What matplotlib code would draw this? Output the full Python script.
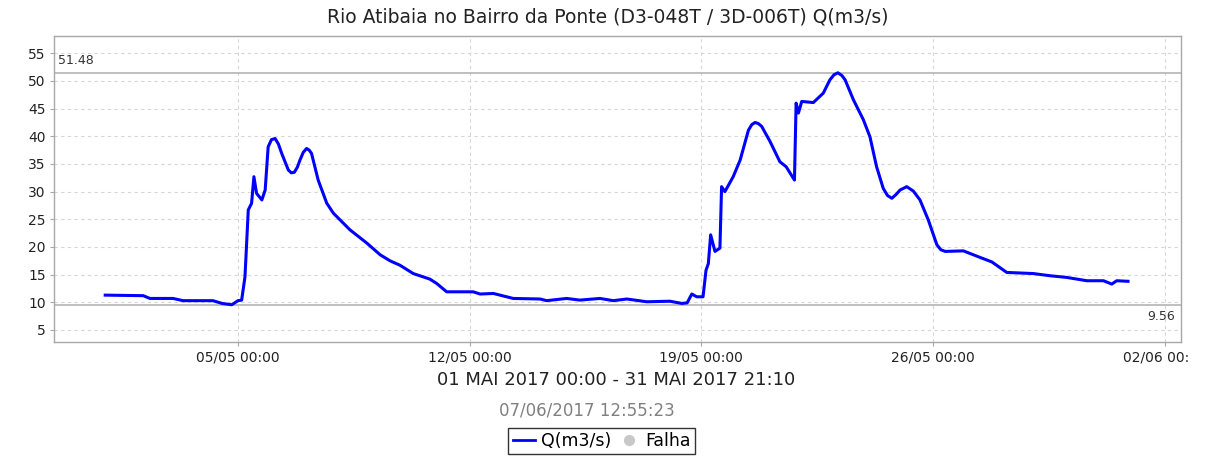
"""
Vazão do Rio Atibaia no Bairro da Ponte - maio de 2017
"""

import matplotlib
matplotlib.use('Agg')
import matplotlib.pyplot as plt
import matplotlib.dates as mdates
from matplotlib.lines import Line2D
from matplotlib.transforms import Bbox, TransformedBbox
from datetime import datetime, timedelta

# dias desde 01/05/2017 00:00
dias = [0.00, 1.15, 1.35, 2.05, 2.35, 3.25, 3.53, 3.82, 4.01, 4.12,
        4.22, 4.32, 4.42, 4.49, 4.57, 4.73, 4.83, 4.92, 5.02, 5.13,
        5.23, 5.33, 5.53, 5.62, 5.71, 5.80, 5.88, 5.98, 6.08, 6.16,
        6.23, 6.43, 6.69, 6.89,
        7.39, 7.90, 8.30, 8.60, 8.90, 9.30, 9.80, 10.01, 10.31, 11.11,
        11.32, 11.72, 12.32, 13.13, 13.33, 13.93, 14.33, 14.94, 15.34, 15.75,
        16.35, 17.05, 17.41, 17.57, 17.71, 17.86, 18.05, 18.14, 18.21, 18.28,
        18.41, 18.56, 18.61, 18.71, 18.96, 19.17, 19.42, 19.52, 19.62, 19.72,
        19.82, 20.07,
        20.37, 20.56, 20.81, 20.86, 20.93, 21.03, 21.38, 21.68, 21.88, 22.00,
        22.12, 22.24, 22.34, 22.59, 22.89, 23.09, 23.29, 23.49, 23.62, 23.75,
        23.88, 24.00, 24.20, 24.40, 24.60, 24.85, 25.11, 25.23, 25.36, 25.91,
        26.42, 26.77, 27.22, 28.02,
        28.53, 29.03, 29.64, 30.14, 30.39, 30.54, 30.88]
vazao = [11.3, 11.2, 10.7, 10.7, 10.3, 10.3, 9.8, 9.56, 10.3, 10.4,
         14.6, 26.7, 27.9, 32.7, 29.7, 28.5, 30.3, 38.1, 39.4, 39.6,
         38.6, 36.9, 33.9, 33.4, 33.5, 34.4, 35.7, 37.1, 37.8, 37.5,
         36.9, 32.1, 27.9, 26.1,
         23.1, 20.7, 18.6, 17.5, 16.7, 15.2, 14.2, 13.4, 11.9, 11.9,
         11.5, 11.6, 10.7, 10.6, 10.3, 10.7, 10.4, 10.7, 10.3, 10.6,
         10.1, 10.2, 9.8, 9.9, 11.5, 11.0, 11.0, 15.8, 17.0, 22.2,
         19.2, 19.8, 30.9, 30.0, 32.7, 35.7, 41.1, 42.1, 42.5, 42.3,
         41.8, 39.1,
         35.4, 34.5, 32.1, 46.0, 44.2, 46.3, 46.1, 47.8, 50.2, 51.1,
         51.48, 51.0, 50.2, 46.6, 43.0, 39.9, 34.5, 30.6, 29.3, 28.8,
         29.5, 30.3, 30.9, 30.1, 28.5, 24.9, 20.4, 19.5, 19.2, 19.3,
         18.1, 17.3, 15.4, 15.2,
         14.8, 14.5, 13.9, 13.9, 13.3, 13.9, 13.8]

vazao_max = 51.48
vazao_min = 9.56
inicio = datetime(2017, 5, 1)
datas_ticks = [datetime(2017, 5, 5), datetime(2017, 5, 12), datetime(2017, 5, 19),
               datetime(2017, 5, 26), datetime(2017, 6, 2)]
y_ticks = [5, 10, 15, 20, 25, 30, 35, 40, 45, 50, 55]

titulo = 'Rio Atibaia no Bairro da Ponte (D3-048T / 3D-006T) Q(m3/s)'
periodo = '01 MAI 2017 00:00 - 31 MAI 2017 21:10'
gerado = '07/06/2017 12:55:23'

plt.rcParams['font.family'] = ['DejaVu Sans']

tempos = [inicio + timedelta(days=d) for d in dias]

fig = plt.figure(figsize=(12.16, 4.59), dpi=100)
ax = fig.add_axes([0.0444, 0.2549, 0.9268, 0.6667])

ax.plot(tempos, vazao, color='#0000ff', linewidth=2.2, solid_joinstyle='round', zorder=3)

# linhas de máximo e mínimo
ax.axhline(vazao_max, color='#b4b4b4', linewidth=1.2, zorder=2)
ax.axhline(vazao_min, color='#b4b4b4', linewidth=1.2, zorder=2)
ax.annotate(f'{vazao_max:.2f}', xy=(0, vazao_max), xycoords=('axes fraction', 'data'),
            xytext=(3, 4), textcoords='offset points', ha='left', va='bottom',
            fontsize=9, color='#333333')
ax.annotate(f'{vazao_min:.2f}', xy=(1, vazao_min), xycoords=('axes fraction', 'data'),
            xytext=(-4, -4), textcoords='offset points', ha='right', va='top',
            fontsize=9, color='#333333')

ax.set_xlim(inicio - timedelta(days=1.546), inicio + timedelta(days=32.48))
ax.set_ylim(2.83, 58.13)
ax.set_yticks(y_ticks)
ax.set_xticks(datas_ticks)
ax.xaxis.set_major_formatter(mdates.DateFormatter('%d/%m %H:%M'))

ax.grid(True, color='#d6d6d6', linestyle=(0, (3, 3)), linewidth=0.8)
ax.set_axisbelow(True)
for s in ax.spines.values():
    s.set_color('#a8a8a8')
    s.set_linewidth(1.0)
ax.tick_params(axis='both', colors='#a8a8a8', labelcolor='#222222', labelsize=10,
               length=3, width=0.8, pad=3)

fig.text(0.4996, 0.963, titulo, ha='center', va='center', fontsize=13.5, color='#222222')
fig.text(0.507, 0.172, periodo, ha='center', va='center', fontsize=13, color='#222222')
fig.text(0.483, 0.1046, gerado, ha='center', va='center', fontsize=12, color='#808080')

handles = [Line2D([], [], color='#0000ff', linewidth=2),
           Line2D([], [], linestyle='none', marker='o', markersize=7,
                  markerfacecolor='#c8c8c8', markeredgecolor='#c8c8c8')]
leg = fig.legend(handles, ['Q(m3/s)', 'Falha'], loc='center', ncol=2,
                 bbox_to_anchor=(0.495, 0.0392), fontsize=12.5, frameon=True,
                 fancybox=False, edgecolor='black', handlelength=1.3,
                 handletextpad=0.3, columnspacing=0.4, borderpad=0.25,
                 borderaxespad=0)
leg.get_frame().set_linewidth(1.0)

# último rótulo cortado na borda como no original
fig.canvas.draw()
corte = TransformedBbox(Bbox([[0, 0], [1190 / 1216, 1]]), fig.transFigure)
for lbl in ax.get_xticklabels():
    lbl.set_clip_on(True)
    lbl.set_clip_box(corte)

fig.savefig('out.png', dpi=100)
plt.close(fig)
